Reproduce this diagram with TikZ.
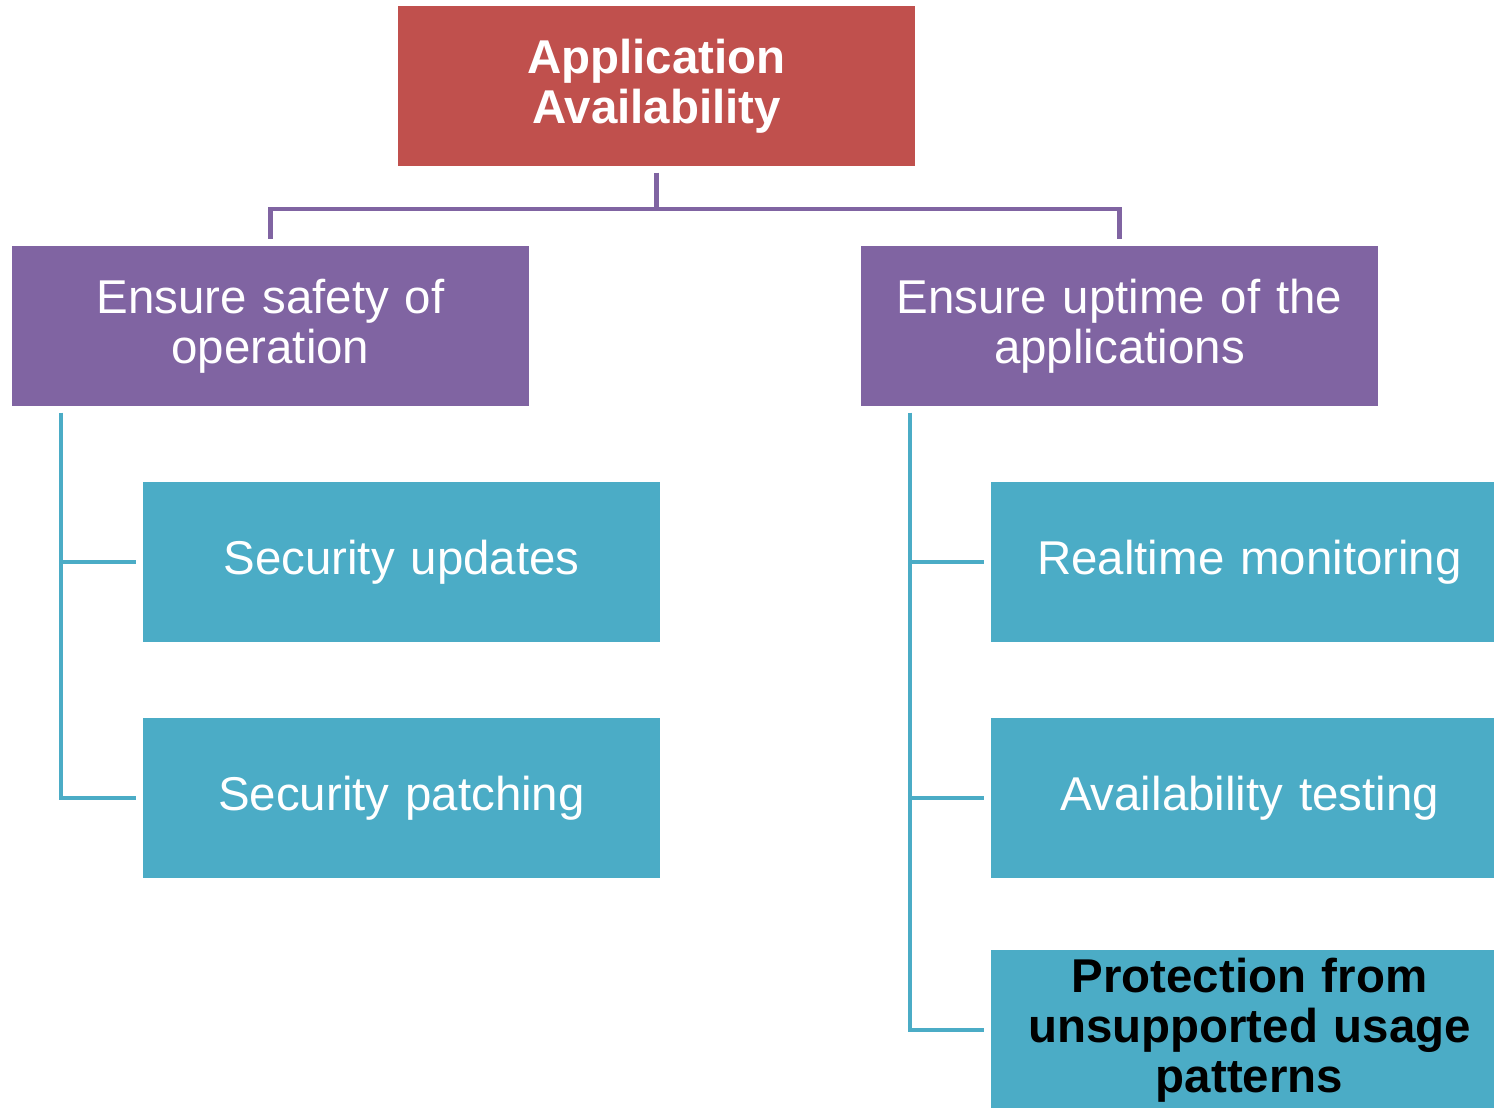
\documentclass[tikz,border=0pt]{standalone}
\usepackage{fontspec}
\setmainfont{Liberation Sans}
\usepackage{tikz}
\usetikzlibrary{positioning,calc}
\definecolor{boxred}{HTML}{C0504D}
\definecolor{boxpurple}{HTML}{8064A2}
\definecolor{boxteal}{HTML}{4BACC6}

\begin{document}
\begin{tikzpicture}[
    box/.style={rectangle,minimum width=5.17cm,minimum height=1.6cm,inner sep=0pt,
      text width=5cm,align=center,font=\fontsize{13.5}{14.3}\selectfont},
    topbox/.style={box,fill=boxred,text=white,font=\fontsize{13.5}{14.3}\selectfont\bfseries},
    midbox/.style={box,fill=boxpurple,text=white},
    leafbox/.style={box,fill=boxteal,text=white},
    purpleline/.style={draw=boxpurple,line width=1.2pt},
    tealline/.style={draw=boxteal,line width=1.2pt}]
  \useasboundingbox (0,0) rectangle (14.94,-11.08);

  % Root
  \node[topbox] (app) at (6.565,-0.86) {Application\\Availability};

  % Second level
  \node[midbox] (safety) at (2.705,-3.26) {Ensure safety of\\operation};
  \node[midbox] (uptime) at (11.195,-3.26) {Ensure uptime of the\\applications};

  % Leaves under safety
  \node[leafbox] (updates) at (4.015,-5.62) {Security updates};
  \node[leafbox] (patching) at (4.015,-7.98) {Security patching};

  % Leaves under uptime
  \node[leafbox] (monitor) at (12.495,-5.62) {Realtime monitoring};
  \node[leafbox] (testing) at (12.495,-7.98) {Availability testing};
  \node[leafbox,text=black,font=\fontsize{13.5}{14.3}\selectfont\bfseries] (usage) at (12.495,-10.30)
    {Protection from\\unsupported usage\\patterns};

  % Root to second level
  \draw[purpleline] ([yshift=-0.6mm]app.south) -- ++(0,-0.36) coordinate (hub);
  \draw[purpleline] (hub) -| ([yshift=0.6mm]safety.north);
  \draw[purpleline] (hub) -| ([yshift=0.6mm]uptime.north);

  % Safety branch
  \coordinate (ltrunk) at ([xshift=5mm,yshift=-0.6mm]safety.south west);
  \draw[tealline] (ltrunk) |- ([xshift=-0.6mm]patching.west);
  \draw[tealline] (ltrunk |- updates.west) -- ([xshift=-0.6mm]updates.west);

  % Uptime branch
  \coordinate (rtrunk) at ([xshift=5mm,yshift=-0.6mm]uptime.south west);
  \draw[tealline] (rtrunk) |- ([xshift=-0.6mm]usage.west);
  \draw[tealline] (rtrunk |- monitor.west) -- ([xshift=-0.6mm]monitor.west);
  \draw[tealline] (rtrunk |- testing.west) -- ([xshift=-0.6mm]testing.west);
\end{tikzpicture}
\end{document}
